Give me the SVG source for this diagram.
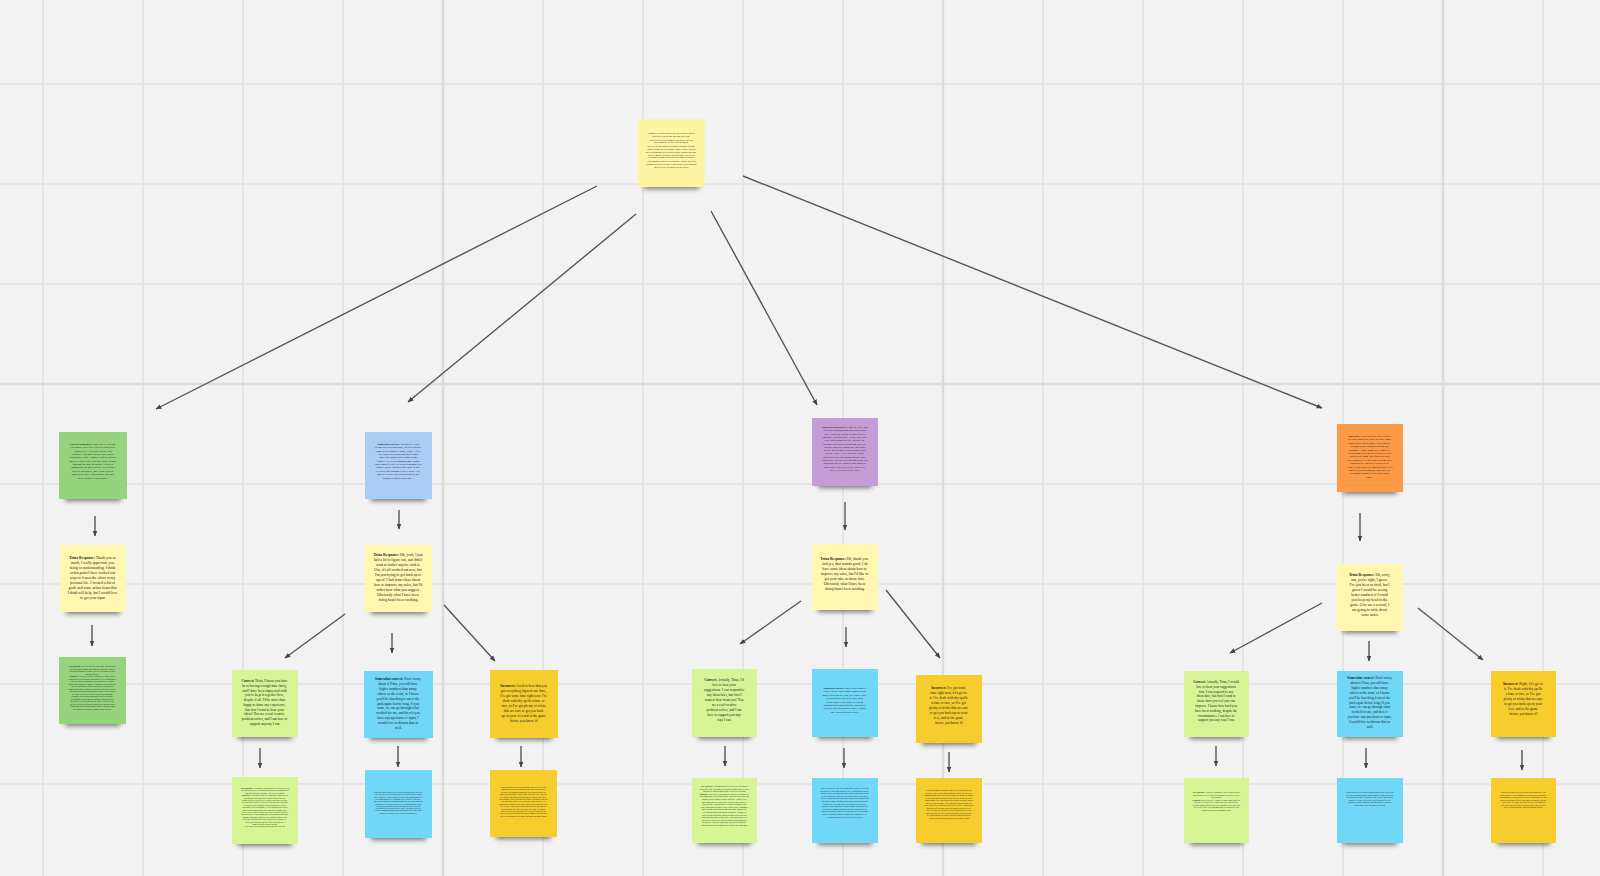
<svg xmlns="http://www.w3.org/2000/svg" width="1600" height="876" viewBox="0 0 1600 876">
<defs>
<pattern id="grid" x="42" y="83" width="100" height="100" patternUnits="userSpaceOnUse">
<path d="M1 0 V100 M0 1 H100" stroke="#e5e5e5" stroke-width="2" fill="none"/>
</pattern>
<filter id="blur" x="-30%" y="-100%" width="160%" height="300%"><feGaussianBlur stdDeviation="2.4"/></filter>
<marker id="ah" viewBox="0 0 10 10" refX="9" refY="5" markerWidth="6" markerHeight="6" markerUnits="userSpaceOnUse" orient="auto">
<path d="M0,1 L10,5 L0,9 z" fill="#444"/>
</marker>
<style>
.t{font-family:"Liberation Serif","DejaVu Serif",serif;fill:#222;text-anchor:middle}
.b{font-weight:bold}
.sd{fill:#000;opacity:.5;filter:url(#blur)}
.yl{fill:#fff7b0}
.yr{fill:#fdf4a2}
.gr{fill:#95d47c}
.bl{fill:#a9cdf4}
.pu{fill:#c49dd6}
.or{fill:#fe9a45}
.li{fill:#d7f594}
.cy{fill:#70d7f8}
.go{fill:#f6cd2d}
.cn line{stroke:#555;stroke-width:1.4;marker-end:url(#ah)}
</style>
</defs>
<rect width="1600" height="876" fill="#f2f2f2"/>
<rect width="1600" height="876" fill="url(#grid)"/>
<g stroke="#dcdcdc" stroke-width="2.4">
<line x1="443" y1="0" x2="443" y2="876"/>
<line x1="943" y1="0" x2="943" y2="876"/>
<line x1="1443" y1="0" x2="1443" y2="876"/>
<line x1="0" y1="384" x2="1600" y2="384"/>
</g>

<g id="connectors" class="cn">
<line x1="597" y1="186" x2="156" y2="409"/>
<line x1="636" y1="214" x2="408" y2="402"/>
<line x1="711" y1="211" x2="817" y2="405"/>
<line x1="743" y1="176" x2="1322" y2="408"/>
<line x1="95" y1="516" x2="95" y2="536"/>
<line x1="92" y1="625" x2="92" y2="646"/>
<line x1="399" y1="510" x2="399" y2="529"/>
<line x1="345" y1="614" x2="285" y2="658"/>
<line x1="392" y1="633" x2="392" y2="653"/>
<line x1="444" y1="605" x2="495" y2="661"/>
<line x1="260" y1="748" x2="260" y2="768"/>
<line x1="398" y1="746" x2="398" y2="767"/>
<line x1="521" y1="746" x2="521" y2="767"/>
<line x1="845" y1="502" x2="845" y2="530"/>
<line x1="801" y1="601" x2="740" y2="644"/>
<line x1="846" y1="627" x2="846" y2="647"/>
<line x1="886" y1="590" x2="940" y2="658"/>
<line x1="725" y1="746" x2="725" y2="766"/>
<line x1="844" y1="748" x2="844" y2="768"/>
<line x1="949" y1="752" x2="949" y2="772"/>
<line x1="1360" y1="513" x2="1360" y2="541"/>
<line x1="1322" y1="603" x2="1230" y2="653"/>
<line x1="1369" y1="641" x2="1369" y2="661"/>
<line x1="1418" y1="608" x2="1483" y2="660"/>
<line x1="1216" y1="746" x2="1216" y2="766"/>
<line x1="1366" y1="748" x2="1366" y2="768"/>
<line x1="1522" y1="750" x2="1522" y2="770"/>
</g>

<g id="n-activity">
<rect class="sd" x="644" y="178" width="55" height="11"/>
<rect class="yr" x="638" y="119" width="67" height="68"/>
<text class="t" font-size="2.2" x="671.5" y="134"><tspan class="b">Activity:</tspan> It's been a busy week, and you have just sat
<tspan x="671.5" dy="2.75">down for a one-on-one meeting with Trina.</tspan>
<tspan x="671.5" dy="3.9">You review her sales numbers and notice that they</tspan>
<tspan x="671.5" dy="2.75">have dropped a lot over the past month.</tspan>
<tspan x="671.5" dy="3.9">She tells you she has been dealing with some personal</tspan>
<tspan x="671.5" dy="2.75">issues at home that have made it hard to focus. She has</tspan>
<tspan x="671.5" dy="2.75">been working hard to get back on track, and she has some</tspan>
<tspan x="671.5" dy="2.75">ideas to improve her sales, but she wants to hear how</tspan>
<tspan x="671.5" dy="2.75">you handled things when your own numbers slipped.</tspan>
<tspan x="671.5" dy="3.9">As her manager, how do you respond? Choose one of the</tspan>
<tspan x="671.5" dy="2.75">responses below to see how Trina reacts to your approach</tspan>
<tspan x="671.5" dy="2.75">and to receive feedback on your choice.</tspan></text>
</g>

<g id="n-correct-response">
<rect class="sd" x="65" y="490" width="56" height="11"/>
<rect class="gr" x="59" y="432" width="68" height="67"/>
<text class="t" font-size="2.8" x="93" y="445"><tspan class="b">Correct Response:</tspan> While she is leaving,
<tspan x="93" dy="3.35">you notice there are tears welling up in</tspan>
<tspan x="93" dy="3.35">Trina's eyes. After she pauses, you</tspan>
<tspan x="93" dy="3.35">respond: "I'm sorry to hear that you're</tspan>
<tspan x="93" dy="3.35">struggling, Trina. I know it can be hard to</tspan>
<tspan x="93" dy="3.35">focus at work when you have other things</tspan>
<tspan x="93" dy="3.35">fighting for your attention. I want to</tspan>
<tspan x="93" dy="3.35">commend you on all of the extra effort</tspan>
<tspan x="93" dy="3.35">you are putting in, and I want to hear</tspan>
<tspan x="93" dy="3.35">about ways that I can support you and</tspan>
<tspan x="93" dy="3.35">help you meet your goals."</tspan></text>
</g>

<g id="n-somewhat-correct">
<rect class="sd" x="371" y="490" width="55" height="11"/>
<rect class="bl" x="365" y="432" width="67" height="67"/>
<text class="t" font-size="2.8" x="398.5" y="445"><tspan class="b">Somewhat correct:</tspan> You notice Trina
<tspan x="398.5" dy="3.35">seems to be getting upset, so you quickly</tspan>
<tspan x="398.5" dy="3.35">jump in to respond: "Wow, Trina - I feel</tspan>
<tspan x="398.5" dy="3.35">like you've been having such a hard</tspan>
<tspan x="398.5" dy="3.35">time; you should have come to me</tspan>
<tspan x="398.5" dy="3.35">sooner. I've been through some tough</tspan>
<tspan x="398.5" dy="3.35">times myself, but I've always managed to</tspan>
<tspan x="398.5" dy="3.35">bounce back. I'm glad you came to me.</tspan>
<tspan x="398.5" dy="3.35">I'll walk you through exactly what I did,</tspan>
<tspan x="398.5" dy="3.35">and we'll have you back on top of the</tspan>
<tspan x="398.5" dy="3.35">numbers again in no time."</tspan></text>
</g>

<g id="n-somewhat-incorrect">
<rect class="sd" x="818" y="477" width="54" height="11"/>
<rect class="pu" x="812" y="418" width="66" height="68"/>
<text class="t" font-size="2.7" x="845" y="428"><tspan class="b">Somewhat incorrect:</tspan> It may be early, and
<tspan x="845" dy="3.3">you start planning what you want to say</tspan>
<tspan x="845" dy="3.3">next. When she doesn't seem ready to</tspan>
<tspan x="845" dy="3.3">continue, you interrupt: "Trina, I'm really</tspan>
<tspan x="845" dy="3.3">glad you brought this up. I'm sure the</tspan>
<tspan x="845" dy="3.3">personal stuff has been hard on you. I've</tspan>
<tspan x="845" dy="3.3">had my share of slumps too, and what</tspan>
<tspan x="845" dy="3.3">helped me the most was sticking to the</tspan>
<tspan x="845" dy="3.3">basics. I have a few tips that I think</tspan>
<tspan x="845" dy="3.3">could help you turn things around, and I</tspan>
<tspan x="845" dy="3.3">would love to walk you through them. I'm</tspan>
<tspan x="845" dy="3.3">confident that we can get your numbers</tspan>
<tspan x="845" dy="3.3">back where they need to be, and I'll be</tspan>
<tspan x="845" dy="3.3">there every step of the way."</tspan></text>
</g>

<g id="n-incorrect">
<rect class="sd" x="1343" y="483" width="54" height="11"/>
<rect class="or" x="1337" y="424" width="66" height="68"/>
<text class="t" font-size="2.8" x="1370" y="437"><tspan class="b">Incorrect:</tspan> You can sense that Trina is
<tspan x="1370" dy="3.4">getting worked up, and you have some</tspan>
<tspan x="1370" dy="3.4">good sales tips to share. You jump in</tspan>
<tspan x="1370" dy="3.4">as soon as she finishes talking and</tspan>
<tspan x="1370" dy="3.4">respond: "Trina, come on, I know it's</tspan>
<tspan x="1370" dy="3.4">been tough, but you need to keep your</tspan>
<tspan x="1370" dy="3.4">head in the game and focus on what</tspan>
<tspan x="1370" dy="3.4">really matters. If you want to bring your</tspan>
<tspan x="1370" dy="3.4">numbers up, you need to put in the</tspan>
<tspan x="1370" dy="3.4">effort. I can walk you through what I did</tspan>
<tspan x="1370" dy="3.4">when I was starting out, and you'll be</tspan>
<tspan x="1370" dy="3.4">seeing the numbers you want in no</tspan>
<tspan x="1370" dy="3.4">time."</tspan></text>
</g>

<g id="n-trina-1">
<rect class="sd" x="66" y="603" width="54" height="11"/>
<rect class="yl" x="60" y="545" width="66" height="67"/>
<text class="t" font-size="3.7" x="93" y="559"><tspan class="b">Trina Response:</tspan> Thank you so
<tspan x="93" dy="5">much, I really appreciate you</tspan>
<tspan x="93" dy="5">being so understanding. I think</tspan>
<tspan x="93" dy="5">at this point I have worked out</tspan>
<tspan x="93" dy="5">ways to lessen the effect of my</tspan>
<tspan x="93" dy="5">personal life. I created a list of</tspan>
<tspan x="93" dy="5">goals and some action items that</tspan>
<tspan x="93" dy="5">I think will help, but I would love</tspan>
<tspan x="93" dy="5">to get your input.</tspan></text>
</g>

<g id="n-trina-2">
<rect class="sd" x="371" y="603" width="55" height="11"/>
<rect class="yl" x="365" y="545" width="67" height="67"/>
<text class="t" font-size="3.7" x="398.5" y="556"><tspan class="b">Trina Response:</tspan> Oh, yeah, I just
<tspan x="398.5" dy="5">had a lot to figure out, and didn't</tspan>
<tspan x="398.5" dy="5">want to bother anyone with it.</tspan>
<tspan x="398.5" dy="5">Um, it's all worked out now, but</tspan>
<tspan x="398.5" dy="5">I'm just trying to get back up to</tspan>
<tspan x="398.5" dy="5">speed. I had some ideas about</tspan>
<tspan x="398.5" dy="5">how to improve my sales, but I'd</tspan>
<tspan x="398.5" dy="5">rather hear what you suggest.</tspan>
<tspan x="398.5" dy="5">Obviously what I have been</tspan>
<tspan x="398.5" dy="5">doing hasn't been working.</tspan></text>
</g>

<g id="n-trina-3">
<rect class="sd" x="818" y="601" width="54" height="11"/>
<rect class="yl" x="812" y="544" width="66" height="66"/>
<text class="t" font-size="3.7" x="845" y="560"><tspan class="b">Trina Response:</tspan> Oh, thank you.
<tspan x="845" dy="5">And yes, that sounds good. I do</tspan>
<tspan x="845" dy="5">have some ideas about how to</tspan>
<tspan x="845" dy="5">improve my sales, but I'd like to</tspan>
<tspan x="845" dy="5">get your take on them first.</tspan>
<tspan x="845" dy="5">Obviously what I have been</tspan>
<tspan x="845" dy="5">doing hasn't been working.</tspan></text>
</g>

<g id="n-trina-4">
<rect class="sd" x="1343" y="622" width="54" height="11"/>
<rect class="yl" x="1337" y="564" width="66" height="67"/>
<text class="t" font-size="3.7" x="1370" y="576"><tspan class="b">Trina Response:</tspan> Oh, sorry,
<tspan x="1370" dy="5">um, you're right, I guess.</tspan>
<tspan x="1370" dy="5">I've just been so tired, but I</tspan>
<tspan x="1370" dy="5">guess I would be seeing</tspan>
<tspan x="1370" dy="5">better numbers if I could</tspan>
<tspan x="1370" dy="5">just keep my head in the</tspan>
<tspan x="1370" dy="5">game. Give me a second, I</tspan>
<tspan x="1370" dy="5">am going to write down</tspan>
<tspan x="1370" dy="5">some notes.</tspan></text>
</g>

<g id="n-feedback-1">
<rect class="sd" x="65" y="715" width="55" height="11"/>
<rect class="gr" x="59" y="657" width="67" height="67"/>
<text class="t" font-size="1.9" x="92.5" y="667"><tspan class="b">Next Question:</tspan> You review the list with Trina. She has done a
<tspan x="92.5" dy="2.5">great job identifying the areas where her sales have slipped</tspan>
<tspan x="92.5" dy="2.5">and she has a plan to fix them. How do you support her plan</tspan>
<tspan x="92.5" dy="2.5">moving forward?</tspan>
<tspan x="92.5" dy="2.5"><tspan class="b">Feedback:</tspan> Great job! You gave Trina space to share what is</tspan>
<tspan x="92.5" dy="2.5">going on and you responded with empathy. By recognizing the</tspan>
<tspan x="92.5" dy="2.5">effort she has been putting in, you helped her feel valued</tspan>
<tspan x="92.5" dy="2.5">and supported instead of judged. Asking how you can help her</tspan>
<tspan x="92.5" dy="2.5">meet her goals shows that you trust her to lead her own</tspan>
<tspan x="92.5" dy="2.5">improvement while letting her know that you are there for her.</tspan>
<tspan x="92.5" dy="2.5">This approach builds trust and makes it more likely that she</tspan>
<tspan x="92.5" dy="2.5">will come to you early the next time she is struggling.</tspan>
<tspan x="92.5" dy="2.5">Remember that personal challenges can affect anyone's</tspan>
<tspan x="92.5" dy="2.5">performance, and a supportive manager can make all the</tspan>
<tspan x="92.5" dy="2.5">difference. Keep checking in with Trina over the next few</tspan>
<tspan x="92.5" dy="2.5">weeks, celebrate her progress, and help her adjust her plan</tspan>
<tspan x="92.5" dy="2.5">if something is not working. Small wins will help her regain</tspan>
<tspan x="92.5" dy="2.5">her confidence and get her numbers back on track.</tspan></text>
</g>

<g id="n-correct-1">
<rect class="sd" x="238" y="728" width="54" height="11"/>
<rect class="li" x="232" y="670" width="66" height="67"/>
<text class="t" font-size="3.5" x="265" y="682"><tspan class="b">Correct:</tspan> Trina, I know you have
<tspan x="265" dy="4.75">been having a tough time lately,</tspan>
<tspan x="265" dy="4.75">and I have been impressed with</tspan>
<tspan x="265" dy="4.75">you've kept it together here,</tspan>
<tspan x="265" dy="4.75">despite it all. I'd be more than</tspan>
<tspan x="265" dy="4.75">happy to share my experience,</tspan>
<tspan x="265" dy="4.75">but first I want to hear your</tspan>
<tspan x="265" dy="4.75">ideas! You are a real creative</tspan>
<tspan x="265" dy="4.75">problem solver, and I am here to</tspan>
<tspan x="265" dy="4.75">support anyway I can.</tspan></text>
</g>

<g id="n-somewhat-1">
<rect class="sd" x="370" y="729" width="57" height="11"/>
<rect class="cy" x="364" y="671" width="69" height="67"/>
<text class="t" font-size="3.5" x="398.5" y="680"><tspan class="b">Somewhat correct:</tspan> Don't worry
<tspan x="398.5" dy="4.9">about it Trina, you still have</tspan>
<tspan x="398.5" dy="4.9">higher numbers than many</tspan>
<tspan x="398.5" dy="4.9">others on the team, so I know</tspan>
<tspan x="398.5" dy="4.9">you'll be knocking it out of the</tspan>
<tspan x="398.5" dy="4.9">park again before long. If you</tspan>
<tspan x="398.5" dy="4.9">want, we can go through what</tspan>
<tspan x="398.5" dy="4.9">worked for me, and then if you</tspan>
<tspan x="398.5" dy="4.9">have any questions or input, I</tspan>
<tspan x="398.5" dy="4.9">would love to discuss that as</tspan>
<tspan x="398.5" dy="4.9">well.</tspan></text>
</g>

<g id="n-incorrect-1">
<rect class="sd" x="496" y="729" width="56" height="11"/>
<rect class="go" x="490" y="670" width="68" height="68"/>
<text class="t" font-size="3.5" x="524" y="687"><tspan class="b">Incorrect:</tspan> Good to hear that you
<tspan x="524" dy="5">got everything figured out. Sure,</tspan>
<tspan x="524" dy="5">I've got some time right now. I've</tspan>
<tspan x="524" dy="5">dealt with dry spells a time or</tspan>
<tspan x="524" dy="5">two, so I've got plenty of tricks</tspan>
<tspan x="524" dy="5">that are sure to get you back</tspan>
<tspan x="524" dy="5">up on your feet and in the game</tspan>
<tspan x="524" dy="5">before you know it!</tspan></text>
</g>

<g id="n-correct-2">
<rect class="sd" x="698" y="728" width="53" height="11"/>
<rect class="li" x="692" y="669" width="65" height="68"/>
<text class="t" font-size="3.5" x="724.5" y="681"><tspan class="b">Correct:</tspan> Actually, Trina, I'd
<tspan x="724.5" dy="5">love to hear your</tspan>
<tspan x="724.5" dy="5">suggestions. I can respond to</tspan>
<tspan x="724.5" dy="5">any ideas later, but first I</tspan>
<tspan x="724.5" dy="5">want to hear from you! You</tspan>
<tspan x="724.5" dy="5">are a real creative</tspan>
<tspan x="724.5" dy="5">problem solver, and I am</tspan>
<tspan x="724.5" dy="5">here to support you any</tspan>
<tspan x="724.5" dy="5">way I can.</tspan></text>
</g>

<g id="n-somewhat-2">
<rect class="sd" x="818" y="728" width="54" height="11"/>
<rect class="cy" x="812" y="669" width="66" height="68"/>
<text class="t" font-size="2.6" x="845" y="689"><tspan class="b">Somewhat correct:</tspan> Don't worry about it
<tspan x="845" dy="3.4">Trina, you still have higher numbers than</tspan>
<tspan x="845" dy="3.4">many others on the team, so I know you'll</tspan>
<tspan x="845" dy="3.4">be knocking it out of the park again</tspan>
<tspan x="845" dy="3.4">before long. If you want, we can go</tspan>
<tspan x="845" dy="3.4">through what worked for me, and then if</tspan>
<tspan x="845" dy="3.4">you have any questions or input, I would</tspan>
<tspan x="845" dy="3.4">love to discuss that as well.</tspan></text>
</g>

<g id="n-incorrect-2">
<rect class="sd" x="922" y="734" width="54" height="11"/>
<rect class="go" x="916" y="675" width="66" height="68"/>
<text class="t" font-size="3.5" x="949" y="689"><tspan class="b">Incorrect:</tspan> I've got some
<tspan x="949" dy="5">time right now, let's get to</tspan>
<tspan x="949" dy="5">it. I've dealt with dry spells</tspan>
<tspan x="949" dy="5">a time or two, so I've got</tspan>
<tspan x="949" dy="5">plenty of tricks that are sure</tspan>
<tspan x="949" dy="5">to get you back up on your</tspan>
<tspan x="949" dy="5">feet, and in the game</tspan>
<tspan x="949" dy="5">before you know it!</tspan></text>
</g>

<g id="n-correct-3">
<rect class="sd" x="1190" y="728" width="53" height="11"/>
<rect class="li" x="1184" y="671" width="65" height="66"/>
<text class="t" font-size="3.4" x="1216.5" y="683"><tspan class="b">Correct:</tspan> Actually, Trina, I would
<tspan x="1216.5" dy="4.8">love to hear your suggestions</tspan>
<tspan x="1216.5" dy="4.8">first. I can respond to any</tspan>
<tspan x="1216.5" dy="4.8">ideas later, but first I want to</tspan>
<tspan x="1216.5" dy="4.8">know how you feel you can</tspan>
<tspan x="1216.5" dy="4.8">improve. I know how hard you</tspan>
<tspan x="1216.5" dy="4.8">have been working, despite the</tspan>
<tspan x="1216.5" dy="4.8">circumstances. I am here to</tspan>
<tspan x="1216.5" dy="4.8">support you any way I can.</tspan></text>
</g>

<g id="n-somewhat-3">
<rect class="sd" x="1343" y="728" width="54" height="11"/>
<rect class="cy" x="1337" y="671" width="66" height="66"/>
<text class="t" font-size="3.4" x="1370" y="679"><tspan class="b">Somewhat correct:</tspan> Don't worry
<tspan x="1370" dy="4.9">about it Trina, you still have</tspan>
<tspan x="1370" dy="4.9">higher numbers than many</tspan>
<tspan x="1370" dy="4.9">others on the team, so I know</tspan>
<tspan x="1370" dy="4.9">you'll be knocking it out of the</tspan>
<tspan x="1370" dy="4.9">park again before long. If you</tspan>
<tspan x="1370" dy="4.9">want, we can go through what</tspan>
<tspan x="1370" dy="4.9">worked for me, and then if</tspan>
<tspan x="1370" dy="4.9">you have any questions or input,</tspan>
<tspan x="1370" dy="4.9">I would love to discuss that as</tspan>
<tspan x="1370" dy="4.9">well.</tspan></text>
</g>

<g id="n-incorrect-3">
<rect class="sd" x="1497" y="728" width="53" height="11"/>
<rect class="go" x="1491" y="671" width="65" height="66"/>
<text class="t" font-size="3.5" x="1523.5" y="685"><tspan class="b">Incorrect:</tspan> Right, let's get to
<tspan x="1523.5" dy="5">it. I've dealt with dry spells</tspan>
<tspan x="1523.5" dy="5">a time or two, so I've got</tspan>
<tspan x="1523.5" dy="5">plenty of tricks that are sure</tspan>
<tspan x="1523.5" dy="5">to get you back up on your</tspan>
<tspan x="1523.5" dy="5">feet, and in the game</tspan>
<tspan x="1523.5" dy="5">before you know it!</tspan></text>
</g>

<g id="n-result-c1">
<rect class="sd" x="238" y="835" width="54" height="11"/>
<rect class="li" x="232" y="777" width="66" height="67"/>
<text class="t" font-size="1.9" x="265" y="789"><tspan class="b">Next Question:</tspan> Trina thanks you and pulls out a notebook with
<tspan x="265" dy="2.4">the ideas she has been working on. She walks you through her</tspan>
<tspan x="265" dy="2.4">plan and asks what you think. How do you respond?</tspan>
<tspan x="265" dy="2.4"><tspan class="b">Feedback:</tspan> You acknowledged the tough time Trina has been</tspan>
<tspan x="265" dy="2.4">having and let her know that you noticed her effort. By</tspan>
<tspan x="265" dy="2.4">asking to hear her ideas first, you showed her that you value</tspan>
<tspan x="265" dy="2.4">her input and trust her to solve her own problems. This kind</tspan>
<tspan x="265" dy="2.4">of support builds confidence and encourages her to take</tspan>
<tspan x="265" dy="2.4">ownership of her performance. It also opens the door for an</tspan>
<tspan x="265" dy="2.4">honest conversation about what is and isn't working, and it</tspan>
<tspan x="265" dy="2.4">gives you the chance to share your own experience after she</tspan>
<tspan x="265" dy="2.4">has shared hers. Keep in mind that even strong performers go</tspan>
<tspan x="265" dy="2.4">through tough times, and how you respond can make a big</tspan>
<tspan x="265" dy="2.4">difference in how quickly they bounce back. Continue to</tspan>
<tspan x="265" dy="2.4">listen, ask questions, and offer your experience as a</tspan>
<tspan x="265" dy="2.4">suggestion rather than a solution.</tspan>
<tspan x="265" dy="2.4">Next time, keep building on her ideas with your own.</tspan></text>
</g>

<g id="n-result-s1">
<rect class="sd" x="371" y="829" width="55" height="11"/>
<rect class="cy" x="365" y="770" width="67" height="68"/>
<text class="t" font-size="1.9" x="398.5" y="793">Trina nods and listens as you walk her through what worked for
<tspan x="398.5" dy="2.3">you. She asks a few questions, but she seems hesitant to share</tspan>
<tspan x="398.5" dy="2.3">her own ideas. Telling Trina not to worry and reminding her of</tspan>
<tspan x="398.5" dy="2.3">her strong numbers is reassuring, but it skips over what she</tspan>
<tspan x="398.5" dy="2.3">has been dealing with. Jumping straight into your own approach</tspan>
<tspan x="398.5" dy="2.3">can make her feel that her ideas are less important than yours.</tspan>
<tspan x="398.5" dy="2.3">Offering to discuss her input afterwards is a good step, but</tspan>
<tspan x="398.5" dy="2.3">try asking for her ideas first next time. This shows that you</tspan>
<tspan x="398.5" dy="2.3">trust her judgment and gives her ownership of the plan, which</tspan>
<tspan x="398.5" dy="2.3">will make her more likely to follow through on it.</tspan></text>
</g>

<g id="n-result-i1">
<rect class="sd" x="496" y="828" width="55" height="11"/>
<rect class="go" x="490" y="770" width="67" height="67"/>
<text class="t" font-size="1.9" x="523.5" y="788">Trina listens quietly as you go through your list of tricks. She
<tspan x="523.5" dy="2.4">thanks you, but she doesn't share any of the ideas she had</tspan>
<tspan x="523.5" dy="2.4">prepared. By jumping straight into your own solutions, you</tspan>
<tspan x="523.5" dy="2.4">missed an opportunity to hear what Trina had to say. She told</tspan>
<tspan x="523.5" dy="2.4">you that she had some ideas about how to improve her sales,</tspan>
<tspan x="523.5" dy="2.4">and taking the time to hear them would have shown her that you</tspan>
<tspan x="523.5" dy="2.4">value her input. While your experience can be helpful, it is</tspan>
<tspan x="523.5" dy="2.4">important to remember that what worked for you may not work</tspan>
<tspan x="523.5" dy="2.4">for everyone. Trina has been through a difficult time, and she</tspan>
<tspan x="523.5" dy="2.4">needs support, not just a list of tips. Next time, try asking</tspan>
<tspan x="523.5" dy="2.4">about her ideas first, and then offer your own experience as</tspan>
<tspan x="523.5" dy="2.4">a way to build on what she has already planned. This will help</tspan>
<tspan x="523.5" dy="2.4">her feel heard and give her more confidence moving forward.</tspan></text>
</g>

<g id="n-result-c2">
<rect class="sd" x="698" y="834" width="53" height="11"/>
<rect class="li" x="692" y="778" width="65" height="65"/>
<text class="t" font-size="1.9" x="724.5" y="787"><tspan class="b">Next Question:</tspan> Trina shares her ideas with you. She wants to
<tspan x="724.5" dy="2.6">spend more time following up with past customers and try a new</tspan>
<tspan x="724.5" dy="2.6">approach for introducing add-ons. How do you respond?</tspan>
<tspan x="724.5" dy="2.6"><tspan class="b">Feedback:</tspan> Nice work! Even though you started by offering your</tspan>
<tspan x="724.5" dy="2.6">own suggestions, you recognized that Trina had ideas of her own</tspan>
<tspan x="724.5" dy="2.6">and gave her the chance to share them first. Asking for her</tspan>
<tspan x="724.5" dy="2.6">input shows that you respect her experience and trust her to</tspan>
<tspan x="724.5" dy="2.6">find solutions. It also helps her feel more ownership of the</tspan>
<tspan x="724.5" dy="2.6">plan, which makes her more likely to stick with it. Remember</tspan>
<tspan x="724.5" dy="2.6">that Trina has been going through a hard time, and the way</tspan>
<tspan x="724.5" dy="2.6">you respond can help rebuild her confidence. Continue to</tspan>
<tspan x="724.5" dy="2.6">listen, ask open questions, and build on her ideas with your</tspan>
<tspan x="724.5" dy="2.6">own experience where it adds value. Check in with her over</tspan>
<tspan x="724.5" dy="2.6">the next few weeks to see how her plan is working and help</tspan>
<tspan x="724.5" dy="2.6">her adjust it if needed. Small wins will help her regain her</tspan>
<tspan x="724.5" dy="2.6">confidence and get her numbers back where she wants them.</tspan></text>
</g>

<g id="n-result-s2">
<rect class="sd" x="818" y="834" width="54" height="11"/>
<rect class="cy" x="812" y="778" width="66" height="65"/>
<text class="t" font-size="1.9" x="845" y="789">Trina listens as you walk her through what worked for you, and
<tspan x="845" dy="2.6">she asks a few questions along the way. Reassuring her that her</tspan>
<tspan x="845" dy="2.6">numbers are still strong is kind, but it moves past what she has</tspan>
<tspan x="845" dy="2.6">been dealing with. Trina told you that she had her own ideas,</tspan>
<tspan x="845" dy="2.6">and by leading with your approach, you may have signaled that</tspan>
<tspan x="845" dy="2.6">yours matter more. Offering to discuss her input afterwards is</tspan>
<tspan x="845" dy="2.6">a good step. Next time, invite her to share her ideas first,</tspan>
<tspan x="845" dy="2.6">then offer your experience to build on them. This shows that</tspan>
<tspan x="845" dy="2.6">you trust her judgment and helps her take ownership of her</tspan>
<tspan x="845" dy="2.6">plan, which makes it more likely that she will follow through</tspan>
<tspan x="845" dy="2.6">and feel confident about the changes she is making. Keep</tspan>
<tspan x="845" dy="2.6">checking in with her over the next few weeks.</tspan></text>
</g>

<g id="n-result-i2">
<rect class="sd" x="922" y="834" width="54" height="11"/>
<rect class="go" x="916" y="778" width="66" height="65"/>
<text class="t" font-size="1.9" x="949" y="791">Trina nods along as you share your list of tricks, but she puts
<tspan x="949" dy="2.5">her notes away without mentioning any of her own ideas. By</tspan>
<tspan x="949" dy="2.5">jumping straight into your own solutions, you missed the chance</tspan>
<tspan x="949" dy="2.5">to hear what she had prepared. She told you she had ideas for</tspan>
<tspan x="949" dy="2.5">improving her sales, and asking about them would have shown</tspan>
<tspan x="949" dy="2.5">that you value her input. Your experience can be helpful, but</tspan>
<tspan x="949" dy="2.5">what worked for you may not work for everyone. Trina has been</tspan>
<tspan x="949" dy="2.5">through a difficult time and needs support, not just a list of</tspan>
<tspan x="949" dy="2.5">tips. Next time, ask about her ideas first and then offer your</tspan>
<tspan x="949" dy="2.5">own experience as a way to build on them. This will help her</tspan>
<tspan x="949" dy="2.5">feel heard and give her more confidence moving forward.</tspan>
<tspan x="949" dy="2.5">Check in with her again soon to see how she is doing.</tspan></text>
</g>

<g id="n-result-c3">
<rect class="sd" x="1190" y="834" width="53" height="11"/>
<rect class="li" x="1184" y="778" width="65" height="65"/>
<text class="t" font-size="1.9" x="1216.5" y="793"><tspan class="b">Next Question:</tspan> Trina takes a moment to write down her notes
<tspan x="1216.5" dy="2.5">and then shares a few ideas for getting back on track. How do</tspan>
<tspan x="1216.5" dy="2.5">you respond?</tspan>
<tspan x="1216.5" dy="2.5"><tspan class="b">Feedback:</tspan> Good recovery! Asking for Trina's suggestions first</tspan>
<tspan x="1216.5" dy="2.5">helps her feel heard after a tough start to the conversation.</tspan>
<tspan x="1216.5" dy="2.5">Recognizing how hard she has been working lets her know that</tspan>
<tspan x="1216.5" dy="2.5">you see her effort. Keep building on her ideas and offer your</tspan>
<tspan x="1216.5" dy="2.5">support as she works through her plan.</tspan></text>
</g>

<g id="n-result-s3">
<rect class="sd" x="1343" y="834" width="54" height="11"/>
<rect class="cy" x="1337" y="778" width="66" height="65"/>
<text class="t" font-size="1.9" x="1370" y="793">Trina listens as you walk her through what worked for you, but
<tspan x="1370" dy="2.5">she still seems discouraged. Reassuring her is kind, but it does</tspan>
<tspan x="1370" dy="2.5">not address how she is feeling after the way the conversation</tspan>
<tspan x="1370" dy="2.5">started. Next time, ask for her ideas first and offer your</tspan>
<tspan x="1370" dy="2.5">experience to build on them. This shows that you trust her</tspan>
<tspan x="1370" dy="2.5">and helps her take ownership of the plan.</tspan></text>
</g>

<g id="n-result-i3">
<rect class="sd" x="1497" y="834" width="53" height="11"/>
<rect class="go" x="1491" y="778" width="65" height="65"/>
<text class="t" font-size="1.9" x="1523.5" y="793">Trina writes down your tips, but she doesn't share any of the
<tspan x="1523.5" dy="2.5">ideas she had. After telling her to keep her head in the game,</tspan>
<tspan x="1523.5" dy="2.5">jumping into your own tricks leaves her feeling unheard. Trina</tspan>
<tspan x="1523.5" dy="2.5">has been through a difficult time and needs support, not just</tspan>
<tspan x="1523.5" dy="2.5">a list of tips. Next time, ask about her ideas first and then</tspan>
<tspan x="1523.5" dy="2.5">offer your own experience to build on them. This will help</tspan>
<tspan x="1523.5" dy="2.5">her feel heard and more confident moving forward.</tspan></text>
</g>
</svg>
